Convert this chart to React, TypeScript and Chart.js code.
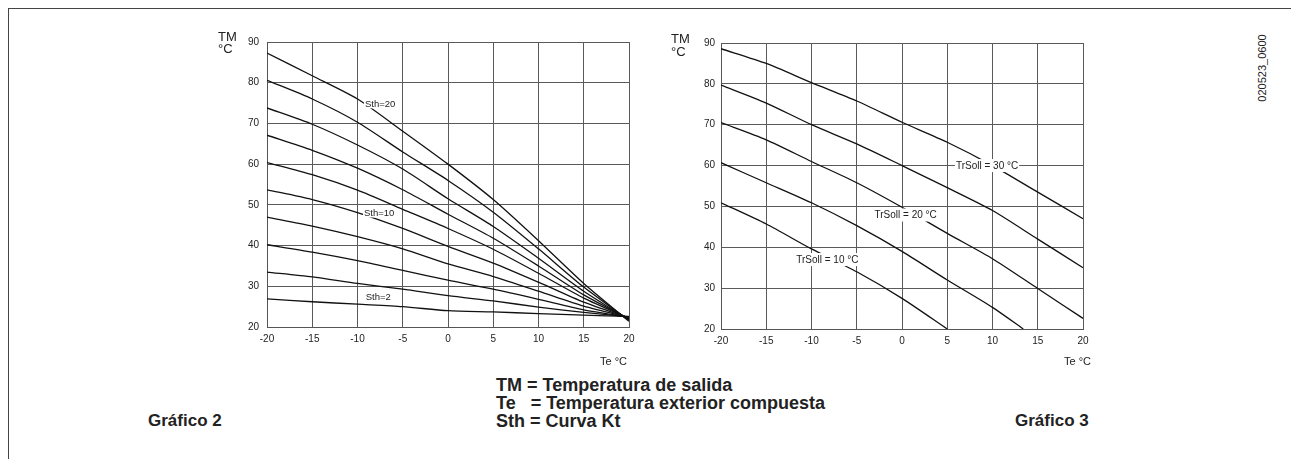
import React, { useEffect, useRef } from 'react';
import { Chart, registerables } from 'chart.js';

Chart.register(...registerables);

// ---------- data ----------
const teValues = [-20, -15, -10, -5, 0, 5, 10, 15, 20];
const xTicks = [-20, -15, -10, -5, 0, 5, 10, 15, 20];
const yTicks = [20, 30, 40, 50, 60, 70, 80, 90];

// Gráfico 2 : Sth curves (TM at each Te)
const sth20 = [87.3, 81.7, 76.0, 68.1, 60.0, 51.3, 41.2, 30.7, 21.4];
const sth18 = [80.6, 76.0, 70.3, 63.0, 56.0, 48.2, 39.2, 29.8, 21.6];
const sth16 = [73.8, 69.8, 64.7, 58.8, 51.5, 44.7, 36.9, 28.8, 21.8];
const sth14 = [67.1, 63.4, 59.0, 53.7, 47.7, 41.8, 35.0, 27.9, 22.0];
const sth12 = [60.4, 57.4, 53.6, 48.9, 44.2, 39.1, 33.2, 27.1, 22.1];
const sth10 = [53.7, 51.3, 48.1, 44.2, 39.8, 35.7, 31.0, 26.1, 22.2];
const sth8 = [47.0, 44.8, 42.2, 39.2, 35.5, 32.4, 28.8, 25.1, 22.3];
const sth6 = [40.2, 38.4, 36.3, 33.9, 31.5, 29.3, 26.8, 24.2, 22.4];
const sth4 = [33.5, 32.3, 30.7, 29.3, 27.7, 26.4, 24.9, 23.6, 22.5];
const sth2 = [26.9, 26.2, 25.6, 25.0, 24.0, 23.7, 23.3, 22.9, 22.6];
const sthSeries = [sth20, sth18, sth16, sth14, sth12, sth10, sth8, sth6, sth4, sth2];

const sthLabels = [
  { text: 'Sth=20', x: -7.5, y: 74.8 },
  { text: 'Sth=10', x: -7.6, y: 48.0 },
  { text: 'Sth=2', x: -7.7, y: 27.4 },
];

// Gráfico 3 : TrSoll curves
const trTe = [-20, -15, -10, -5, 0, 5, 10, 15, 20];
const tr30 = [88.6, 85.0, 80.3, 75.8, 70.6, 65.7, 60.0, 53.5, 47.0];
const tr25 = [79.7, 75.3, 70.0, 65.3, 60.0, 54.6, 49.0, 42.0, 35.0];
const tr20 = [70.5, 66.3, 61.0, 55.8, 49.8, 43.4, 37.2, 29.9, 22.6];
const tr15Te = [-20, -15, -10, -5, 0, 5, 10, 13.4];
const tr15 = [60.7, 55.8, 50.9, 45.3, 39.0, 32.0, 25.3, 20.0];
const tr10Te = [-20, -15, -10, -5, 0, 5];
const tr10 = [50.9, 45.7, 39.6, 34.0, 27.5, 20.0];

const trLabels = [
  { text: 'TrSoll = 30 °C', x: 9.4, y: 60.0 },
  { text: 'TrSoll = 20 °C', x: 0.4, y: 47.9 },
  { text: 'TrSoll = 10 °C', x: -8.25, y: 37.0 },
];

const FONT = '"Liberation Sans", Arial, Helvetica, sans-serif';
Chart.defaults.font.family = FONT;

type Lbl = { text: string; x: number; y: number };

function labelPlugin(items: Lbl[], size: number, padX: number, padY: number) {
  return {
    id: 'curveLabels',
    afterDatasetsDraw(chart: any) {
      const { ctx } = chart;
      const xs = chart.scales.x;
      const ys = chart.scales.y;
      ctx.save();
      ctx.font = `${size}px ${FONT}`;
      ctx.textAlign = 'center';
      ctx.textBaseline = 'middle';
      for (const l of items) {
        const px = xs.getPixelForValue(l.x);
        const py = ys.getPixelForValue(l.y);
        const w = ctx.measureText(l.text).width;
        ctx.fillStyle = '#ffffff';
        ctx.fillRect(px - w / 2 - padX, py - padY, w + 2 * padX, 2 * padY);
        ctx.fillStyle = '#222';
        ctx.fillText(l.text, px, py + 0.5);
      }
      ctx.restore();
    },
  };
}

function makeConfig(datasets: any[], items: Lbl[], yPad: number, labelSize: number, padY: number) {
  return {
    type: 'line' as const,
    data: { datasets },
    options: {
      responsive: false,
      animation: false as const,
      devicePixelRatio: 1,
      layout: { padding: { top: 10, right: 18, left: 0, bottom: 0 } },
      plugins: { legend: { display: false }, tooltip: { enabled: false } },
      elements: {
        point: { radius: 0 },
        line: { borderWidth: 1.3, borderColor: '#111', tension: 0.25 },
      },
      scales: {
        x: {
          type: 'linear' as const,
          min: xTicks[0],
          max: xTicks[xTicks.length - 1],
          afterBuildTicks: (s: any) => {
            s.ticks = xTicks.map((v) => ({ value: v }));
          },
          afterFit: (s: any) => {
            s.height = 31;
          },
          ticks: { color: '#222', font: { size: 10 }, padding: 6, maxRotation: 0, autoSkip: false },
          grid: { color: '#5a5a5a', drawTicks: false, lineWidth: 1 },
          border: { color: '#555' },
        },
        y: {
          type: 'linear' as const,
          min: yTicks[0],
          max: yTicks[yTicks.length - 1],
          afterBuildTicks: (s: any) => {
            s.ticks = yTicks.map((v) => ({ value: v }));
          },
          afterFit: (s: any) => {
            s.width = 40;
          },
          ticks: { color: '#222', font: { size: 10 }, padding: yPad, autoSkip: false },
          grid: { color: '#5a5a5a', drawTicks: false, lineWidth: 1 },
          border: { color: '#555' },
        },
      },
    },
    plugins: [labelPlugin(items, labelSize, 1, padY)],
  };
}

function toPoints(xs: number[], ys: number[]) {
  return xs.map((x, i) => ({ x, y: ys[i] }));
}

export default function App() {
  const leftRef = useRef<HTMLCanvasElement>(null);
  const rightRef = useRef<HTMLCanvasElement>(null);

  useEffect(() => {
    const leftSets = sthSeries.map((s) => ({ data: toPoints(teValues, s) }));
    const rightSets = [
      { data: toPoints(trTe, tr30) },
      { data: toPoints(trTe, tr25) },
      { data: toPoints(trTe, tr20) },
      { data: toPoints(tr15Te, tr15) },
      { data: toPoints(tr10Te, tr10) },
    ];
    const c1 = new Chart(leftRef.current as HTMLCanvasElement, makeConfig(leftSets, sthLabels, 8, 9.5, 4.5) as any);
    const c2 = new Chart(rightRef.current as HTMLCanvasElement, makeConfig(rightSets, trLabels, 6, 10, 6.5) as any);
    return () => {
      c1.destroy();
      c2.destroy();
    };
  }, []);

  const txt: React.CSSProperties = { position: 'absolute', fontFamily: FONT, color: '#222', whiteSpace: 'pre' };

  return (
    <div style={{ position: 'absolute', left: 0, top: 0, width: 1291, height: 459, background: '#fff', overflow: 'hidden' }}>
      <div style={{ position: 'absolute', left: 8, top: 8, width: 1300, height: 460, borderTop: '1px solid #444', borderLeft: '1px solid #444' }} />
      <canvas ref={leftRef} width={420} height={330} style={{ position: 'absolute', left: 227, top: 28, display: 'block' }} />
      <canvas ref={rightRef} width={420} height={329} style={{ position: 'absolute', left: 681, top: 31, display: 'block' }} />

      <div style={{ ...txt, left: 218, top: 31, fontSize: 13, lineHeight: '12px' }}>{'TM\n°C'}</div>
      <div style={{ ...txt, left: 671, top: 32, fontSize: 13, lineHeight: '13px' }}>{'TM\n°C'}</div>

      <div style={{ ...txt, left: 600, top: 355, fontSize: 11, lineHeight: '13px' }}>Te °C</div>
      <div style={{ ...txt, left: 1064, top: 355, fontSize: 11, lineHeight: '13px' }}>Te °C</div>

      <div style={{ ...txt, left: 496, top: 376, fontSize: 18, fontWeight: 'bold', lineHeight: '18px' }}>
        {'TM = Temperatura de salida\nTe   = Temperatura exterior compuesta\nSth = Curva Kt'}
      </div>
      <div style={{ ...txt, left: 148, top: 412, fontSize: 17, fontWeight: 'bold', lineHeight: '18px' }}>Gráfico 2</div>
      <div style={{ ...txt, left: 1015, top: 412, fontSize: 17, fontWeight: 'bold', lineHeight: '18px' }}>Gráfico 3</div>

      <div
        style={{
          ...txt,
          left: 1262,
          top: 68,
          fontSize: 11,
          lineHeight: '13px',
          transform: 'translate(-50%, -50%) rotate(-90deg)',
        }}
      >
        020523_0600
      </div>
    </div>
  );
}
